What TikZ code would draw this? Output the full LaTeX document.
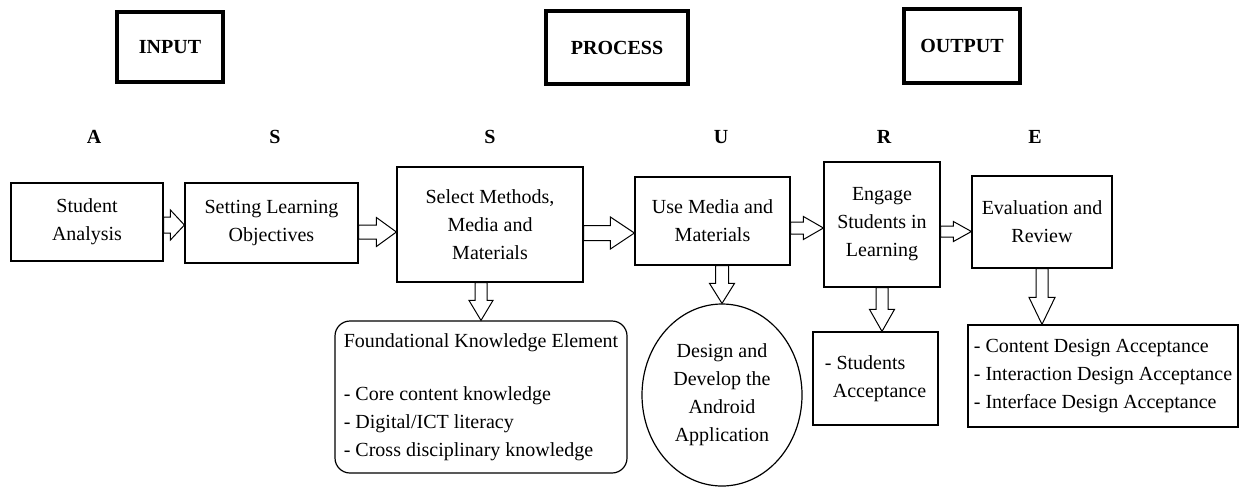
\documentclass[tikz,border=0pt]{standalone}
\usepackage{fontspec}
\setmainfont{Liberation Serif}
\usetikzlibrary{calc,shapes.geometric}

\tikzset{
  box/.style={draw, line width=1.2pt, align=center, inner sep=2pt},
  headbox/.style={draw, line width=3.5pt, font=\fontsize{20pt}{24pt}\selectfont\bfseries},
  letter/.style={font=\fontsize{20pt}{24pt}\selectfont\bfseries},
  arrowbody/.style={draw, fill=white, line width=1pt, line join=miter}
}

% horizontal block arrow: tail x from #1, tip at #2
\newcommand{\harrow}[5]{%
  \draw[arrowbody] let \p1=(#1), \p2=(#2) in
    (\x1,{\y2+#3pt}) -- ({\x2-#5pt},{\y2+#3pt}) -- ({\x2-#5pt},{\y2+#4pt}) -- (\x2,\y2)
    -- ({\x2-#5pt},{\y2-#4pt}) -- ({\x2-#5pt},{\y2-#3pt}) -- (\x1,{\y2-#3pt}) -- cycle;}
% vertical block arrow: tail y from #1, tip at #2
\newcommand{\varrow}[5]{%
  \draw[arrowbody] let \p1=(#1), \p2=(#2) in
    ({\x2-#3pt},\y1) -- ({\x2-#3pt},{\y2+#5pt}) -- ({\x2-#4pt},{\y2+#5pt}) -- (\x2,\y2)
    -- ({\x2+#4pt},{\y2+#5pt}) -- ({\x2+#3pt},{\y2+#5pt}) -- ({\x2+#3pt},\y1) -- cycle;}

\begin{document}
\begin{tikzpicture}[x=1pt, y=-1pt, font=\fontsize{20pt}{28pt}\selectfont]
\useasboundingbox (0,0) rectangle (1239,488);

\node[headbox, minimum width=106pt, minimum height=70pt] (input) at (170,47) {INPUT};
\node[headbox, minimum width=142pt, minimum height=73pt] (process) at (617,47.5) {PROCESS};
\node[headbox, minimum width=116pt, minimum height=74pt] (output) at (962,46) {OUTPUT};

\node[letter] (la) at (94,137) {A};
\node[letter] (ls1) at (275,137) {S};
\node[letter] (ls2) at (490,137) {S};
\node[letter] (lu) at (721,137) {U};
\node[letter] (lr) at (884,137) {R};
\node[letter] (le) at (1035,137) {E};

\node[box, minimum width=152pt, minimum height=78pt] (analysis) at (87,222) {Student\\Analysis};
\node[box, minimum width=173pt, minimum height=80pt] (objectives) at (271.5,223) {Setting Learning\\Objectives};
\node[box, minimum width=186pt, minimum height=115pt] (select) at (490,224.5) {Select Methods,\\Media and\\Materials};
\node[box, minimum width=155pt, minimum height=88pt] (usemedia) at (712.5,221) {Use Media and\\Materials};
\node[box, minimum width=116pt, minimum height=125pt] (engage) at (882,224.5) {Engage\\Students in\\Learning};
\node[box, minimum width=140pt, minimum height=92pt] (evaluation) at (1042,222) {Evaluation and\\Review};

\node[box, rounded corners=15pt, align=left, minimum width=292pt, minimum height=152pt] (knowledge) at (481,397)
  {Foundational Knowledge Element\\[25pt]- Core content knowledge\\- Digital/ICT literacy\\- Cross disciplinary knowledge};
\node[box, ellipse, inner sep=0pt, minimum width=160pt, minimum height=182pt] (android) at (722,395)
  {Design and\\Develop the\\Android\\Application};
\node[box, align=left, minimum width=125pt, minimum height=93pt] (students) at (875.5,378.5)
  {- Students\\\hspace*{8pt}Acceptance};
\node[box, align=left, minimum width=270pt, minimum height=102pt] (acceptance) at (1103,376)
  {- Content Design Acceptance\\- Interaction Design Acceptance\\- Interface Design Acceptance};

\harrow{analysis.east}{[yshift=-2pt]objectives.west}{8}{15}{14}
\harrow{objectives.east}{[yshift=-7.5pt]select.west}{7}{14.5}{20}
\harrow{select.east}{[yshift=-12pt]usemedia.west}{7.5}{16}{24}
\harrow{usemedia.east}{[yshift=-3.5pt]engage.west}{6}{11.5}{20}
\harrow{engage.east}{[yshift=-9.5pt]evaluation.west}{5.5}{10}{18}

\varrow{select.south}{knowledge.north}{6}{12}{20}
\varrow{usemedia.south}{android.north}{6.5}{12.5}{20}
\varrow{engage.south}{engage.south |- students.north}{6}{12.5}{22}
\varrow{evaluation.south}{evaluation.south |- acceptance.north}{6}{13}{27}
\end{tikzpicture}
\end{document}
